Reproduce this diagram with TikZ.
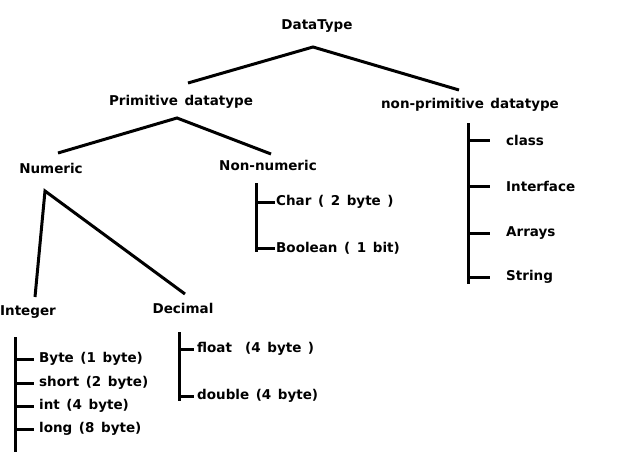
\documentclass[tikz,border=0pt]{standalone}
\usepackage{fontspec}
\setmainfont[WordSpace=1.4]{DejaVu Sans}
\usepackage{tikz}
\usetikzlibrary{positioning}
\tikzstyle{treeline} = [line width=3pt, line cap=butt, color=black]
\tikzstyle{dtext} = [inner sep=1pt, font=\fontsize{13.5}{15}\selectfont\bfseries]
\tikzstyle{item} = [dtext, anchor=west]

\begin{document}
\begin{tikzpicture}[x=1pt, y=-1pt]
\useasboundingbox[fill=white] (0,0) rectangle (641,474);

% Tree heads
\node[dtext] (dt) at (317,26) {DataType};
\node[dtext] (prim) at (181,102) {Primitive datatype};
\node[dtext] (nonprim) at (470,105) {non-primitive datatype};
\node[dtext] (num) at (51,168) {Numeric};
\node[dtext] (nonnum) at (268,165) {Non-numeric};
\node[dtext] (int) at (28,312) {Integer};
\node[dtext] (dec) at (183,308) {Decimal};

% Branch points
\coordinate (dtfork) at (313,47);
\coordinate (primfork) at (177,118);
\coordinate (numfork) at (45,191);
\coordinate (primend) at (188,83);
\coordinate (nonprimend) at (459,90);
\coordinate (numend) at (58,153);
\coordinate (nonnumend) at (271,154);
\coordinate (intend) at (35,297);
\coordinate (decend) at (185,294);

\draw[treeline] (primend) -- (dtfork) -- (nonprimend);
\draw[treeline] (numend) -- (primfork) -- (nonnumend);
\draw[treeline, line join=miter] (intend) -- (numfork) -- (decend);

% Integer types
\node[item] (byte) at (38,359) {Byte (1 byte)};
\node[item] (short) at (38,383) {short (2 byte)};
\node[item] (intw) at (38,406) {int (4 byte)};
\node[item] (long) at (38,429) {long (8 byte)};
\coordinate (intbar) at (15,337);
\coordinate (intbarend) at (15,452);
\draw[treeline] (intbar) -- (intbarend);
\draw[treeline, shorten >=4pt] (intbar |- byte.west) -- (byte.west);
\draw[treeline, shorten >=4pt] (intbar |- short.west) -- (short.west);
\draw[treeline, shorten >=4pt] (intbar |- intw.west) -- (intw.west);
\draw[treeline, shorten >=4pt] (intbar |- long.west) -- (long.west);

% Decimal types
\node[item] (float) at (196,349) {float\ \ (4 byte )};
\node[item] (double) at (196,396) {double (4 byte)};
\coordinate (decbar) at (179,332);
\coordinate (decbarend) at (179,401);
\draw[treeline] (decbar) -- (decbarend);
\draw[treeline, shorten >=2pt] (decbar |- float.west) -- (float.west);
\draw[treeline, shorten >=2pt] (decbar |- double.west) -- (double.west);

% Non-numeric types
\node[item] (char) at (275,202) {Char ( 2 byte )};
\node[item] (bool) at (275,248) {Boolean ( 1 bit)};
\coordinate (nnbar) at (256,183);
\coordinate (nnbarend) at (256,252);
\draw[treeline] (nnbar) -- (nnbarend);
\draw[treeline] (nnbar |- char.west) -- (char.west);
\draw[treeline] (nnbar |- bool.west) -- (bool.west);

% Non-primitive types
\node[item] (class) at (505,140) {class};
\node[item] (iface) at (505,186) {Interface};
\node[item] (arrays) at (505,233) {Arrays};
\node[item] (string) at (505,277) {String};
\coordinate (npbar) at (468,123);
\coordinate (npbarend) at (468,284);
\draw[treeline] (npbar) -- (npbarend);
\draw[treeline, shorten >=15pt] (npbar |- class.west) -- (class.west);
\draw[treeline, shorten >=15pt] (npbar |- iface.west) -- (iface.west);
\draw[treeline, shorten >=15pt] (npbar |- arrays.west) -- (arrays.west);
\draw[treeline, shorten >=15pt] (npbar |- string.west) -- (string.west);
\end{tikzpicture}
\end{document}
